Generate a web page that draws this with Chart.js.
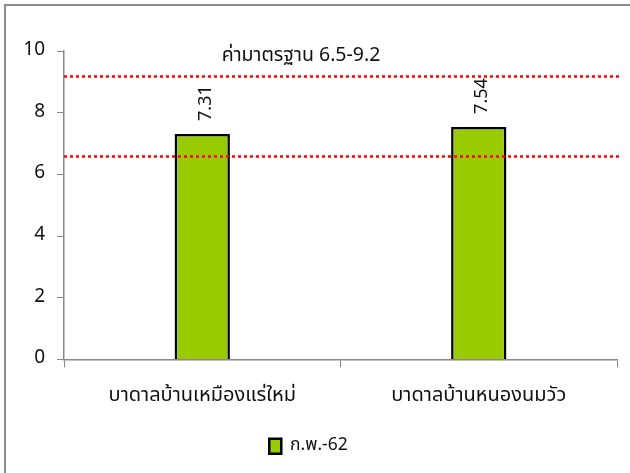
<!DOCTYPE html>
<html lang="th">
<head>
  <meta charset="utf-8">
  <title>ค่า pH น้ำบาดาล</title>
  <script src="https://cdn.jsdelivr.net/npm/chart.js@4/dist/chart.umd.min.js"></script>
  <style>
    html, body { margin: 0; padding: 0; background: #fff; overflow: hidden; }
    #chart { display: block; }
  </style>
</head>
<body>
  <canvas id="chart" width="630" height="473"></canvas>

  <script>
    // data
    var categories = ["บาดาลบ้านเหมืองแร่ใหม่", "บาดาลบ้านหนองนมวัว"];
    var seriesName = "ก.พ.-62";
    var phValues = [7.31, 7.54];
    var standardLines = [6.6, 9.2];
    var standardText = "ค่ามาตรฐาน 6.5-9.2";
    var yTicks = [0, 2, 4, 6, 8, 10];

    var thaiFont = "'Noto Sans Thai', 'Noto Sans Thai UI', Tahoma, 'DejaVu Sans', sans-serif";
    Chart.defaults.font.family = thaiFont;
    Chart.defaults.color = "#111";

    // cropped chart frame: only the left and top edges show
    var frame = {
      id: "frame",
      beforeDraw: function(chart) {
        var ctx = chart.ctx;
        ctx.save();
        ctx.strokeStyle = "#8c8c8c";
        ctx.lineWidth = 2;
        ctx.beginPath();
        ctx.moveTo(5, chart.height);
        ctx.lineTo(5, 5);
        ctx.lineTo(chart.width, 5);
        ctx.stroke();
        ctx.restore();
      }
    };

    // red dotted standard lines, caption and rotated value labels
    var extras = {
      id: "extras",
      afterDatasetsDraw: function(chart) {
        var ctx = chart.ctx;
        var area = chart.chartArea;
        var y = chart.scales.y;
        ctx.save();
        ctx.strokeStyle = "#ff0000";
        ctx.lineWidth = 2.5;
        ctx.setLineDash([3, 3]);
        standardLines.forEach(function(v) {
          var py = Math.round(y.getPixelForValue(v)) + 0.5;
          ctx.beginPath();
          ctx.moveTo(area.left, py);
          ctx.lineTo(area.right + 2, py);
          ctx.stroke();
        });
        ctx.setLineDash([]);

        ctx.fillStyle = "#111";
        ctx.font = "19.5px " + thaiFont;
        ctx.textAlign = "center";
        ctx.textBaseline = "middle";
        ctx.fillText(standardText, 301, y.getPixelForValue(9.8));

        var meta = chart.getDatasetMeta(0);
        ctx.font = "18px " + thaiFont;
        meta.data.forEach(function(bar, i) {
          ctx.save();
          ctx.translate(bar.x + 5, bar.y - 13);
          ctx.rotate(-Math.PI / 2);
          ctx.textAlign = "left";
          ctx.textBaseline = "middle";
          ctx.fillText(phValues[i].toFixed(2), 0, 0);
          ctx.restore();
        });
        ctx.restore();
      }
    };

    new Chart(document.getElementById("chart"), {
      type: "bar",
      data: {
        labels: categories,
        datasets: [{
          label: seriesName,
          data: phValues,
          backgroundColor: "#99cc00",
          borderColor: "#000",
          borderWidth: 2.5,
          borderSkipped: "bottom",
          categoryPercentage: 1,
          barPercentage: 0.2
        }]
      },
      options: {
        responsive: false,
        animation: false,
        layout: { padding: { top: 51, right: 13, bottom: 8, left: 0 } },
        plugins: {
          legend: {
            position: "bottom",
            labels: {
              boxWidth: 12,
              boxHeight: 15,
              padding: 10,
              color: "#111",
              font: { size: 17.5 }
            }
          },
          tooltip: { enabled: false }
        },
        scales: {
          x: {
            offset: true,
            grid: {
              offset: true,
              drawOnChartArea: false,
              drawTicks: true,
              tickLength: 8,
              color: "#888"
            },
            border: { color: "#888", width: 1.5 },
            ticks: { padding: 17, font: { size: 20 }, color: "#111" },
            afterFit: function(scale) { scale.height = 68; }
          },
          y: {
            min: 0,
            max: 10,
            afterBuildTicks: function(scale) {
              scale.ticks = yTicks.map(function(v) { return { value: v }; });
            },
            grid: {
              drawOnChartArea: false,
              drawTicks: true,
              tickLength: 7,
              color: "#888"
            },
            border: { color: "#888", width: 1.5 },
            ticks: { padding: 12, font: { size: 19 }, color: "#111" },
            afterFit: function(scale) { scale.width = 64; }
          }
        }
      },
      plugins: [frame, extras]
    });
  </script>
</body>
</html>
